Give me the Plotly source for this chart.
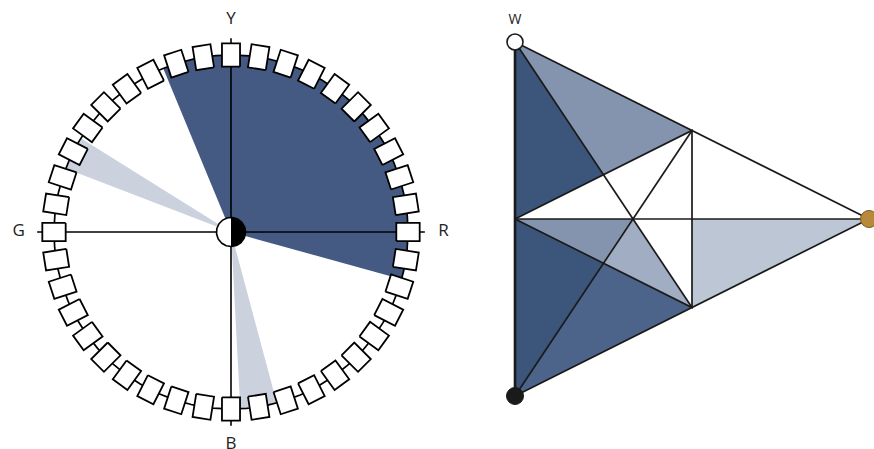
import numpy as np
import plotly.graph_objects as go

# NCS hue circle: 40 hue steps, Y at top, R right, B bottom, G left
n_hues = 40
axis_labels = ["Y", "R", "B", "G"]
axis_angles = [90, 0, -90, 180]

# sectors on the hue circle, degrees (start, end)
dark_sector = (-15.5, 112.5)
light_sectors = [(148, 159), (-87, -75)]

# NCS triangle, nuances as (blackness, chromaticness)
corner_names = ["W", "S", "C"]
corner_nuances = [(0, 0), (1, 0), (0, 1)]
corner_colors = ["white", "#1a1a1a", "#b8893a"]
region_nuances = [
    [(0, 0), (0.5, 0), (0.25, 0.25)],
    [(0, 0), (0.25, 0.25), (0, 0.5)],
    [(0.5, 0), (1 / 3, 1 / 3), (0.5, 0.25)],
    [(1 / 3, 1 / 3), (0.5, 0.25), (0.5, 0.5)],
    [(0.25, 0.5), (0, 1), (0.5, 0.5)],
    [(0.5, 0), (0.5, 0.25), (1, 0)],
    [(0.5, 0.25), (0.5, 0.5), (1, 0)],
]
region_colors = ["#3c557b", "#8594ae", "#8594ae", "#a1adc2", "#bcc6d4", "#3c557b", "#4c648a"]
line_nuances = [
    [(0, 0), (0, 1), (1, 0)],               # outer edges W-C-S
    [(0.5, 0), (0, 0.5), (0.5, 0.5), (0.5, 0)],  # inner triangle
    [(0, 0), (0.5, 0.5)],                   # median from W
    [(1, 0), (0, 0.5)],                     # median from S
    [(0, 1), (0.5, 0)],                     # median from C
]

W, H = 874, 449
INK = "#1a1a1a"


def pol(r, deg):
    t = np.radians(deg)
    return r * np.cos(t), r * np.sin(t)


def wedge(a0, a1, r=1.0):
    a = np.linspace(a0, a1, 80)
    x, y = pol(r, a)
    return [0, *x, 0], [0, *y, 0]


def tri_xy(s, c):
    return c, 1 - s - c / 2


fig = go.Figure()
L = dict(xaxis="x", yaxis="y")
R2 = dict(xaxis="x2", yaxis="y2")

# sectors
x, y = wedge(*dark_sector)
fig.add_trace(go.Scatter(x=x, y=y, fill="toself", fillcolor="#445a82", line_width=0, mode="lines", **L))
for a0, a1 in light_sectors:
    x, y = wedge(a0, a1)
    fig.add_trace(go.Scatter(x=x, y=y, fill="toself", fillcolor="#cbd2de", line_width=0, mode="lines", **L))

# ring
x, y = pol(1.0, np.linspace(0, 360, 361))
fig.add_trace(go.Scatter(x=x, y=y, mode="lines", line=dict(color="black", width=1.7), **L))

# cross
cx, cy = [], []
for a in axis_angles[:2]:
    x0, y0 = pol(1.095, a)
    cx += [-x0, x0, None]
    cy += [-y0, y0, None]
fig.add_trace(go.Scatter(x=cx, y=cy, mode="lines", line=dict(color="black", width=1.6), **L))

# hue boxes
bx, by = [], []
hr, hw = 0.066, 0.051
for k in range(n_hues):
    t = np.radians(90 - 360 / n_hues * k)
    ux, uy = np.cos(t), np.sin(t)
    vx, vy = -uy, ux
    for sr, sw in [(-1, -1), (1, -1), (1, 1), (-1, 1), (-1, -1)]:
        bx.append(ux + sr * hr * ux + sw * hw * vx)
        by.append(uy + sr * hr * uy + sw * hw * vy)
    bx.append(None)
    by.append(None)
fig.add_trace(go.Scatter(x=bx, y=by, fill="toself", fillcolor="white", mode="lines",
                         line=dict(color="black", width=1.8), **L))

# centre: half white / half black
cr = 0.082
x, y = pol(cr, np.linspace(0, 360, 121))
fig.add_trace(go.Scatter(x=x, y=y, fill="toself", fillcolor="white", mode="lines", line_width=0, **L))
x, y = pol(cr, np.linspace(-90, 90, 61))
fig.add_trace(go.Scatter(x=x, y=y, fill="toself", fillcolor="black", mode="lines", line_width=0, **L))
x, y = pol(cr, np.linspace(0, 360, 121))
fig.add_trace(go.Scatter(x=x, y=y, mode="lines", line=dict(color="black", width=1.6), **L))

# axis labels
lx, ly = pol(1.2, np.array(axis_angles))
fig.add_trace(go.Scatter(x=lx, y=ly, mode="text", text=axis_labels,
                         textfont=dict(size=17, color="#222", family="Open Sans"), **L))

# triangle regions
for pts, col in zip(region_nuances, region_colors):
    xy = [tri_xy(*p) for p in pts + pts[:1]]
    fig.add_trace(go.Scatter(x=[p[0] for p in xy], y=[p[1] for p in xy], fill="toself",
                             fillcolor=col, mode="lines", line_width=0, **R2))

# triangle lines
tx, ty = [], []
for seg in line_nuances:
    for p in seg:
        a, b = tri_xy(*p)
        tx.append(a)
        ty.append(b)
    tx.append(None)
    ty.append(None)
fig.add_trace(go.Scatter(x=tx, y=ty, mode="lines", line=dict(color=INK, width=1.7), **R2))
ws = [tri_xy(*corner_nuances[0]), tri_xy(*corner_nuances[1])]
fig.add_trace(go.Scatter(x=[p[0] for p in ws], y=[p[1] for p in ws], mode="lines",
                         line=dict(color=INK, width=2.6), **R2))

# corners
cxy = [tri_xy(*p) for p in corner_nuances]
fig.add_trace(go.Scatter(x=[p[0] for p in cxy], y=[p[1] for p in cxy], mode="markers",
                         marker=dict(size=[16, 17, 17], color=corner_colors, opacity=1,
                                     line=dict(color=[INK, INK, "#7a5a22"], width=[1.6, 1, 1])),
                         cliponaxis=False, **R2))
fig.add_trace(go.Scatter(x=[cxy[0][0]], y=[cxy[0][1] + 0.06], mode="text", text=[corner_names[0]],
                         textfont=dict(size=14, color="#222", family="Open Sans"), **R2))

# pixel geometry -> equal-scale ranges
split = 0.53
c0x, c0y, s0 = 231, 232, 177
t0x, t0y, s1 = 515, 396, 354
ax = dict(visible=False, showgrid=False, zeroline=False, fixedrange=True)
fig.update_layout(
    width=W, height=H, margin=dict(l=0, r=0, t=0, b=0),
    plot_bgcolor="white", paper_bgcolor="white", showlegend=False,
    xaxis=dict(domain=[0, split], range=[(0 - c0x) / s0, (split * W - c0x) / s0], **ax),
    yaxis=dict(domain=[0, 1], range=[(c0y - H) / s0, c0y / s0], **ax),
    xaxis2=dict(domain=[split, 1], range=[(split * W - t0x) / s1, (W - t0x) / s1], **ax),
    yaxis2=dict(domain=[0, 1], range=[(t0y - H) / s1, t0y / s1], **ax),
)
fig.update_traces(hoverinfo="skip")

fig.write_html("out.html", config={"displayModeBar": False},
               post_script="document.body.style.margin='0';")
